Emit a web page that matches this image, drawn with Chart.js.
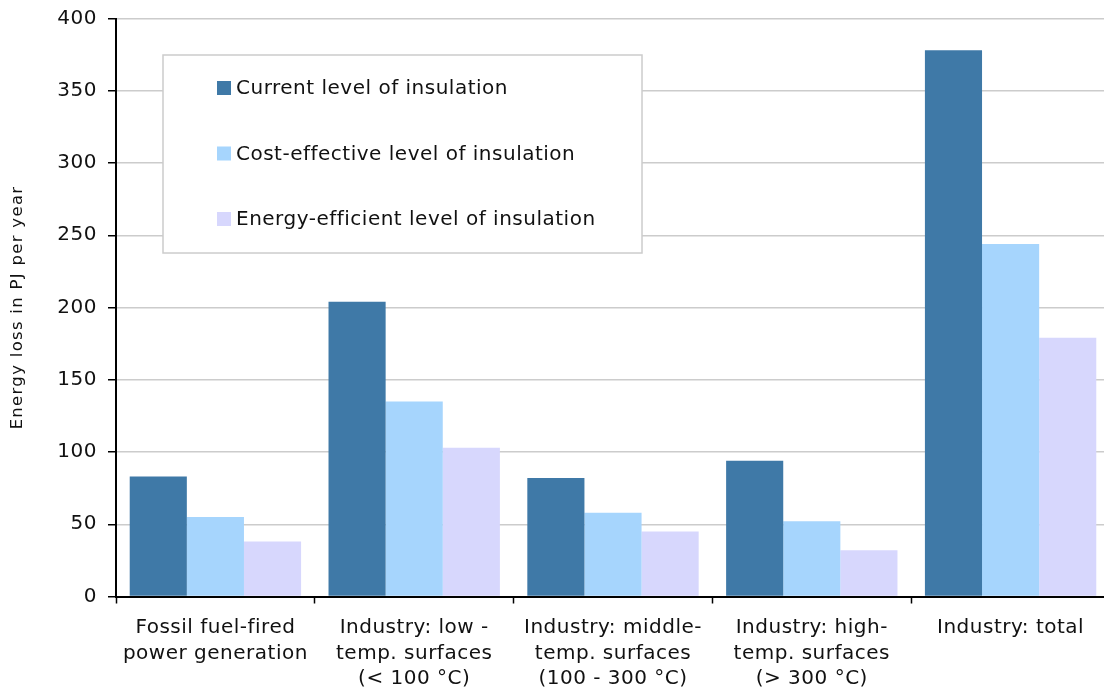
<!DOCTYPE html>
<html>
<head>
<meta charset="utf-8">
<script src="https://cdn.jsdelivr.net/npm/chart.js@4/dist/chart.umd.min.js"></script>
<style>
  html, body { margin: 0; padding: 0; background: #fff; overflow: hidden; }
  #wrap { width: 1104px; height: 689px; position: relative; overflow: hidden; }
  #c { display: block; }
</style>
</head>
<body>
<div id="wrap"><canvas id="c" width="1110" height="689"></canvas></div>
<script>
const categories = [
  ["Fossil fuel-fired", "power generation"],
  ["Industry: low -", "temp. surfaces", "(< 100 °C)"],
  ["Industry: middle-", "temp. surfaces", "(100 - 300 °C)"],
  ["Industry: high-", "temp. surfaces", "(> 300 °C)"],
  ["Industry: total"]
];
const seriesNames = [
  "Current level of insulation",
  "Cost-effective level of insulation",
  "Energy-efficient level of insulation"
];
const currentLevel = [83, 204, 82, 94, 378];
const costEffective = [55, 135, 58, 52, 244];
const energyEfficient = [38, 103, 45, 32, 179];
const yAxisTitle = "Energy loss in PJ per year";
const yMin = 0, yMax = 400, yStep = 50;

const colors = ['#3f79a7', '#a6d5fd', '#d7d7fd'];
const FONT = "'DejaVu Sans', Verdana, sans-serif";

const spacingPlugin = {
  id: 'spacing',
  beforeInit(chart) { chart.ctx.letterSpacing = '0.5px'; },
  beforeLayout(chart) { chart.ctx.letterSpacing = '0.5px'; },
  beforeDraw(chart) { chart.ctx.letterSpacing = '0.5px'; }
};

const legendPlugin = {
  id: 'boxLegend',
  afterDatasetsDraw(chart) {
    const ctx = chart.ctx;
    const ca = chart.chartArea;
    const left = ca.left + 47, top = ca.top + 36.5, w = 479, h = 198;
    ctx.save();
    ctx.fillStyle = '#ffffff';
    ctx.fillRect(left, top, w, h);
    ctx.strokeStyle = '#cccccc';
    ctx.lineWidth = 1.5;
    ctx.strokeRect(left, top, w, h);
    ctx.font = '20px ' + FONT;
    ctx.letterSpacing = '0.5px';
    ctx.textBaseline = 'middle';
    ctx.textAlign = 'left';
    chart.data.datasets.forEach((ds, i) => {
      const cy = top + 33 + i * 65.5;
      ctx.fillStyle = ds.backgroundColor;
      ctx.fillRect(left + 54, cy - 7, 14, 14);
      ctx.fillStyle = '#111';
      ctx.fillText(ds.label, left + 73, cy + 1);
    });
    ctx.restore();
  }
};

const yTitlePlugin = {
  id: 'yTitle',
  afterDraw(chart) {
    const ctx = chart.ctx;
    const ca = chart.chartArea;
    ctx.save();
    ctx.translate(18, (ca.top + ca.bottom) / 2);
    ctx.rotate(-Math.PI / 2);
    ctx.font = '16.5px ' + FONT;
    ctx.letterSpacing = '1.3px';
    ctx.fillStyle = '#111';
    ctx.textAlign = 'center';
    ctx.textBaseline = 'middle';
    ctx.fillText(yAxisTitle, 0, 0);
    ctx.restore();
  }
};

new Chart(document.getElementById('c'), {
  type: 'bar',
  data: {
    labels: categories,
    datasets: [
      { label: seriesNames[0], data: currentLevel, backgroundColor: colors[0] },
      { label: seriesNames[1], data: costEffective, backgroundColor: colors[1] },
      { label: seriesNames[2], data: energyEfficient, backgroundColor: colors[2] }
    ]
  },
  options: {
    responsive: false,
    animation: false,
    devicePixelRatio: 1,
    layout: { padding: { top: 18.5, left: 0, right: 0, bottom: 0 } },
    datasets: { bar: { categoryPercentage: 0.862, barPercentage: 1.0, borderWidth: 0 } },
    plugins: {
      legend: { display: false },
      tooltip: { enabled: false },
      title: { display: false }
    },
    scales: {
      x: {
        offset: true,
        afterFit(scale) {
          scale.height = 92.5;
          scale.paddingLeft = 0;
          scale.paddingRight = 0;
        },
        grid: {
          offset: true,
          drawOnChartArea: false,
          drawTicks: true,
          tickLength: 7,
          tickColor: '#000',
          tickWidth: 1.5
        },
        border: { display: true, color: '#000', width: 2 },
        ticks: {
          font: { family: FONT, size: 20, lineHeight: 1.27 },
          color: '#111',
          padding: 12,
          maxRotation: 0,
          autoSkip: false
        }
      },
      y: {
        min: yMin,
        max: yMax,
        afterFit(scale) {
          scale.width = 116;
          scale.paddingTop = 0;
          scale.paddingBottom = 0;
        },
        grid: {
          color: '#cccccc',
          lineWidth: 1.5,
          tickLength: 8,
          tickColor: '#000',
          tickWidth: 1.5,
          drawTicks: true
        },
        border: { display: true, color: '#000', width: 2 },
        ticks: {
          stepSize: yStep,
          font: { family: FONT, size: 20 },
          color: '#111',
          padding: 11
        },
        title: { display: false }
      }
    }
  },
  plugins: [spacingPlugin, legendPlugin, yTitlePlugin]
});
</script>
</body>
</html>
